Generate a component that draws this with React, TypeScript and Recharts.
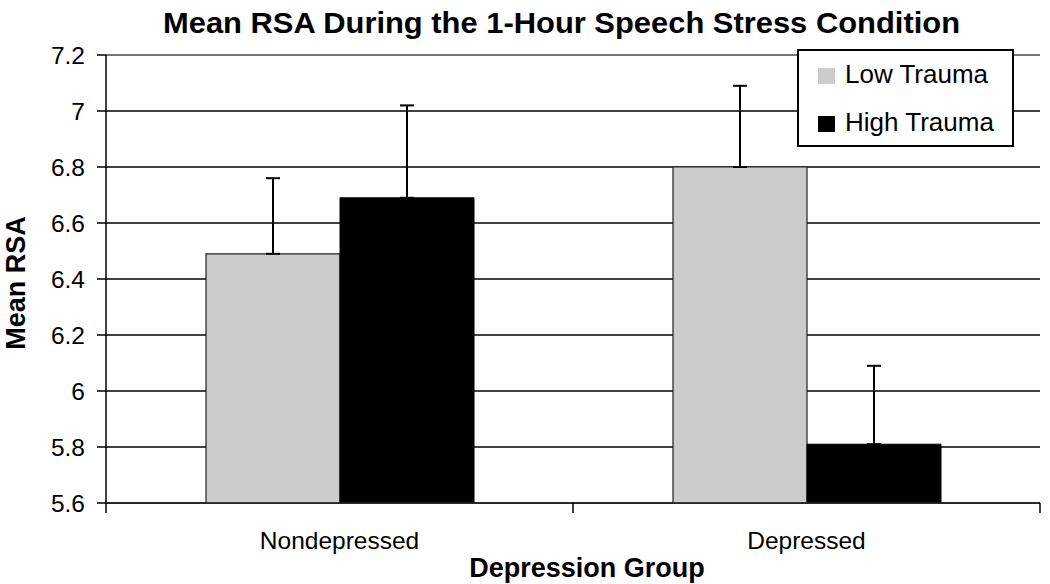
import React from 'react';
import { BarChart, Bar, XAxis, YAxis, CartesianGrid, ErrorBar, Legend, ReferenceLine, Label } from 'recharts';

const categories = ['Nondepressed', 'Depressed'];
const lowTrauma = [6.49, 6.8];
const highTrauma = [6.69, 5.81];
const lowTraumaErr = [0.27, 0.29];
const highTraumaErr = [0.33, 0.28];
const yTicks = [5.6, 5.8, 6, 6.2, 6.4, 6.6, 6.8, 7, 7.2];
const seriesNames = ['Low Trauma', 'High Trauma'];
const seriesColors = ['#cccccc', '#000000'];
const title = 'Mean RSA During the 1-Hour Speech Stress Condition';
const xTitle = 'Depression Group';
const yTitle = 'Mean RSA';

const FONT = '"Liberation Sans", Arial, Helvetica, sans-serif';
const X_TICK_MARGIN = 29;
const X_TICK_LEN = 10;

const data = categories.map((c, i) => ({
  category: c,
  low: lowTrauma[i],
  high: highTrauma[i],
  lowErr: [0, lowTraumaErr[i]],
  highErr: [0, highTraumaErr[i]],
}));

const LegendBox = () => (
  <svg width={217} height={98} style={{ display: 'block' }}>
    <rect x={1} y={1} width={215} height={96} fill="#fff" stroke="#000" strokeWidth={2} />
    {seriesNames.map((name, i) => (
      <g key={name}>
        <rect x={21} y={19 + i * 48} width={17} height={16} fill={seriesColors[i]} />
        <text x={48} y={34 + i * 48} fontFamily={FONT} fontSize={26} fill="#000">
          {name}
        </text>
      </g>
    ))}
  </svg>
);

const CategoryTick = (props: any) => {
  const { x, y, payload, index, width, visibleTicksCount } = props;
  const count = visibleTicksCount || categories.length;
  const half = payload && typeof payload.offset === 'number' && payload.offset > 0 ? payload.offset : width / count / 2;
  const axisY = y - X_TICK_MARGIN;
  return (
    <g>
      <line x1={x - half} y1={axisY} x2={x - half} y2={axisY + X_TICK_LEN} stroke="#000" strokeWidth={1.5} />
      {index === count - 1 && (
        <line x1={x + half} y1={axisY} x2={x + half} y2={axisY + X_TICK_LEN} stroke="#000" strokeWidth={1.5} />
      )}
      <text x={x} y={y} dy="0.71em" textAnchor="middle" fontFamily={FONT} fontSize={24.5} fill="#000">
        {payload.value}
      </text>
    </g>
  );
};

const YTitle = (props: any) => {
  const vb = props.viewBox || { x: 0, y: 0, width: 0, height: 0 };
  const cx = vb.x + 25;
  const cy = vb.y + vb.height / 2 + 4;
  return (
    <text
      x={cx}
      y={cy}
      transform={`rotate(-90, ${cx}, ${cy})`}
      textAnchor="middle"
      fontFamily={FONT}
      fontWeight="bold"
      fontSize={27}
      fill="#000"
    >
      {yTitle}
    </text>
  );
};

const XTitle = (props: any) => {
  const vb = props.viewBox || { x: 0, y: 0, width: 0, height: 0 };
  return (
    <text
      x={vb.x + vb.width / 2 + 14}
      y={vb.y + 74}
      textAnchor="middle"
      fontFamily={FONT}
      fontWeight="bold"
      fontSize={27}
      fill="#000"
    >
      {xTitle}
    </text>
  );
};

export default function App() {
  return (
    <div style={{ position: 'absolute', left: 0, top: 0, width: 1050, height: 584, background: '#fff' }}>
      <BarChart
        width={1050}
        height={584}
        data={data}
        margin={{ top: 55, right: 10, bottom: 0, left: 0 }}
        barGap={0}
        barSize={134}
        style={{ fontFamily: FONT }}
      >
        <CartesianGrid vertical={false} stroke="#000" strokeWidth={1.4} xAxisId="cat" yAxisId="left" />
        <XAxis
          xAxisId="cat"
          dataKey="category"
          height={81}
          tickLine={false}
          tickSize={0}
          tickMargin={X_TICK_MARGIN}
          axisLine={{ stroke: '#222', strokeWidth: 1.5 }}
          tick={<CategoryTick />}
          interval={0}
        >
          <Label content={<XTitle />} />
        </XAxis>
        <YAxis
          yAxisId="left"
          width={106}
          domain={[5.6, 7.2]}
          ticks={yTicks}
          allowDataOverflow
          tickSize={9}
          tickMargin={12}
          axisLine={{ stroke: '#000', strokeWidth: 1.5 }}
          tickLine={{ stroke: '#000', strokeWidth: 1.5 }}
          tick={{ fill: '#000', fontSize: 24.5, fontFamily: FONT }}
        >
          <Label content={<YTitle />} />
        </YAxis>
        <YAxis
          yAxisId="right"
          orientation="right"
          width={0}
          domain={[5.6, 7.2]}
          tick={false}
          tickLine={false}
          axisLine={{ stroke: '#888', strokeWidth: 1.5 }}
        />
        <ReferenceLine xAxisId="cat" yAxisId="left" y={7.2} stroke="#888" strokeWidth={1.5} />
        <Bar
          xAxisId="cat"
          yAxisId="left"
          dataKey="low"
          name={seriesNames[0]}
          fill={seriesColors[0]}
          stroke="#222"
          strokeWidth={1.2}
          isAnimationActive={false}
        >
          <ErrorBar dataKey="lowErr" width={7} stroke="#000" strokeWidth={2} direction="y" />
        </Bar>
        <Bar
          xAxisId="cat"
          yAxisId="left"
          dataKey="high"
          name={seriesNames[1]}
          fill={seriesColors[1]}
          stroke="#000"
          strokeWidth={1}
          isAnimationActive={false}
        >
          <ErrorBar dataKey="highErr" width={7} stroke="#000" strokeWidth={2} direction="y" />
        </Bar>
        <Legend
          layout="vertical"
          align="center"
          verticalAlign="middle"
          content={() => <LegendBox />}
          wrapperStyle={{ position: 'absolute', left: 797, top: 49, width: 217, height: 98 }}
        />
      </BarChart>
      <svg
        width={1050}
        height={48}
        style={{ position: 'absolute', left: 0, top: 0, pointerEvents: 'none' }}
      >
        <text
          x={561.5}
          y={33}
          textAnchor="middle"
          fontFamily={FONT}
          fontWeight="bold"
          fontSize={30}
          fill="#000"
          textLength={797}
          lengthAdjust="spacingAndGlyphs"
        >
          {title}
        </text>
      </svg>
    </div>
  );
}
